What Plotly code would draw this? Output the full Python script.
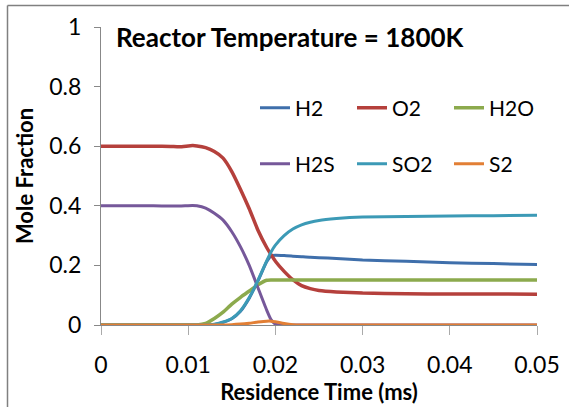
import plotly.graph_objects as go

time_ms = [0, 0.002, 0.004, 0.006, 0.008, 0.009, 0.0105, 0.011, 0.012, 0.013, 0.014,
           0.015, 0.016, 0.017, 0.018, 0.019, 0.0195, 0.020, 0.021, 0.022, 0.023,
           0.024, 0.025, 0.027, 0.030, 0.035, 0.040, 0.045, 0.050]

h2 = [0, 0, 0, 0, 0, 0, 0, 0, 0, 0.002, 0.009, 0.021, 0.046, 0.090, 0.148, 0.212,
      0.232, 0.234, 0.233, 0.231, 0.229, 0.227, 0.226, 0.223, 0.218, 0.214, 0.209, 0.206, 0.203]
o2 = [0.6, 0.6, 0.6, 0.6, 0.599, 0.598, 0.602, 0.601, 0.595, 0.582, 0.560, 0.515, 0.455,
      0.390, 0.318, 0.260, 0.236, 0.214, 0.180, 0.152, 0.132, 0.122, 0.116, 0.111, 0.107,
      0.105, 0.104, 0.104, 0.103]
h2o = [0, 0, 0, 0, 0, 0, 0, 0, 0.005, 0.022, 0.043, 0.070, 0.093, 0.114, 0.135, 0.150,
       0.151, 0.151, 0.151, 0.151, 0.151, 0.151, 0.151, 0.151, 0.151, 0.151, 0.151, 0.151, 0.151]
h2s = [0.4, 0.4, 0.4, 0.4, 0.399, 0.399, 0.401, 0.400, 0.392, 0.375, 0.352, 0.313, 0.262,
       0.200, 0.125, 0.050, 0.018, 0.003, 0, 0, 0, 0, 0, 0, 0, 0, 0, 0, 0]
so2 = [0, 0, 0, 0, 0, 0, 0, 0, 0, 0.003, 0.010, 0.022, 0.048, 0.092, 0.150, 0.215,
       0.245, 0.268, 0.300, 0.322, 0.336, 0.345, 0.351, 0.357, 0.362, 0.364, 0.366, 0.367, 0.368]
s2 = [0, 0, 0, 0, 0, 0, 0, 0, 0, 0, 0, 0.001, 0.003, 0.006, 0.010, 0.013, 0.013, 0.011,
      0.005, 0.001, 0, 0, 0, 0, 0, 0, 0, 0, 0]

series_names = ["H2", "O2", "H2O", "H2S", "SO2", "S2"]
series_values = [h2, o2, h2o, h2s, so2, s2]
series_colors = ["#3f6fab", "#b5403c", "#8caa4d", "#76589a", "#3c9ab6", "#e27f35"]
series_widths = [3, 3.5, 3.5, 3, 3, 3]
series_legend = ["legend", "legend", "legend", "legend2", "legend2", "legend2"]

x_ticks = [0, 0.01, 0.02, 0.03, 0.04, 0.05]
x_tick_labels = ["0", "0.01", "0.02", "0.03", "0.04", "0.05"]
y_ticks = [0, 0.2, 0.4, 0.6, 0.8, 1]
y_tick_labels = ["0", "0.2", "0.4", "0.6", "0.8", "1"]

FONT = "Lato, 'Open Sans', sans-serif"

fig = go.Figure()
for name, vals, col, w, lg in zip(series_names, series_values, series_colors, series_widths, series_legend):
    fig.add_trace(go.Scatter(x=time_ms, y=vals, name=name, mode="lines",
                             line=dict(color=col, width=w, shape="spline", smoothing=0.5),
                             legend=lg))

W, H = 569, 407
L, R, T, B = 101, 32, 27, 82
pw, ph = W - L - R, H - T - B

def px_x(p):
    return (p - L) / pw

def px_y(p):
    return (H - B - p) / ph

legend_common = dict(orientation="h", xanchor="left", yanchor="middle",
                     font=dict(size=21, family=FONT, color="#000"), entrywidth=52,
                     bgcolor="rgba(0,0,0,0)", tracegroupgap=0, itemwidth=30)

fig.update_layout(
    width=W, height=H,
    margin=dict(l=L, r=R, t=T, b=B, autoexpand=False),
    paper_bgcolor="white", plot_bgcolor="white",
    font=dict(family=FONT, color="#000000"),
    showlegend=True,
    legend=dict(x=px_x(255), y=px_y(108), **legend_common),
    legend2=dict(x=px_x(255), y=px_y(164), **legend_common),
    xaxis=dict(range=[0, 0.05], tickvals=x_ticks, ticktext=x_tick_labels, automargin=False,
               showgrid=False, zeroline=False, showline=True, linecolor="#888888", linewidth=1,
               ticks="outside", ticklen=9, tickcolor="#aaaaaa", tickwidth=1,
               tickfont=dict(size=23, family=FONT, color="#000"), ticklabelstandoff=10,
               title=dict(text="<b>Residence Time (ms)</b>", font=dict(size=22, family=FONT, color="#000"),
                          standoff=1)),
    yaxis=dict(range=[0, 1], tickvals=y_ticks, ticktext=y_tick_labels, automargin=False,
               showgrid=False, zeroline=False, showline=True, linecolor="#888888", linewidth=1,
               ticks="outside", ticklen=6, tickcolor="#888888", tickwidth=1,
               tickfont=dict(size=23, family=FONT, color="#000"), ticklabelstandoff=8,
               title=dict(text="<b>Mole Fraction</b>", font=dict(size=22, family=FONT, color="#000"),
                          standoff=9)),
)

fig.add_annotation(text="<b>Reactor Temperature = 1800K</b>", xref="paper", yref="paper",
                   x=px_x(290), y=px_y(37), xanchor="center", yanchor="middle", showarrow=False,
                   font=dict(size=26, family=FONT, color="#000"))

# outer chart frame (left and top edges visible)
fig.add_shape(type="line", xref="paper", yref="paper", x0=px_x(7.5), x1=px_x(7.5),
              y0=px_y(5.5), y1=px_y(420), line=dict(color="#808080", width=1.5))
fig.add_shape(type="line", xref="paper", yref="paper", x0=px_x(7.5), x1=px_x(580),
              y0=px_y(5.5), y1=px_y(5.5), line=dict(color="#808080", width=1.5))

fig.write_html("out.html", post_script="document.body.style.margin='0';",
               config={"displayModeBar": False})
